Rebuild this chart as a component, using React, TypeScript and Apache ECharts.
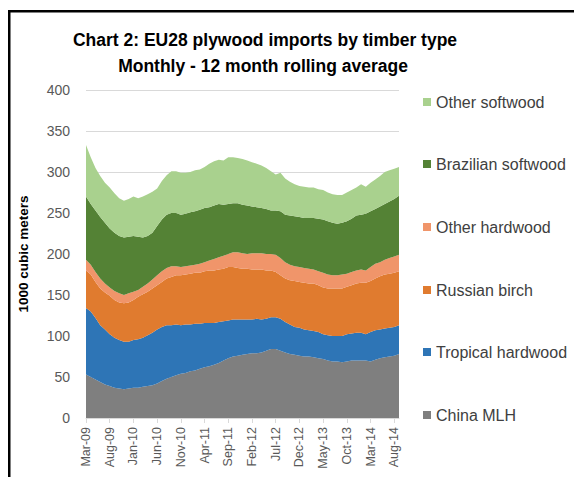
import React, { useEffect, useRef } from "react";
import * as echarts from "echarts";

const months = [
  "Mar-09","Apr-09","May-09","Jun-09","Jul-09","Aug-09","Sep-09","Oct-09","Nov-09","Dec-09",
  "Jan-10","Feb-10","Mar-10","Apr-10","May-10","Jun-10","Jul-10","Aug-10","Sep-10","Oct-10","Nov-10","Dec-10",
  "Jan-11","Feb-11","Mar-11","Apr-11","May-11","Jun-11","Jul-11","Aug-11","Sep-11","Oct-11","Nov-11","Dec-11",
  "Jan-12","Feb-12","Mar-12","Apr-12","May-12","Jun-12","Jul-12","Aug-12","Sep-12","Oct-12","Nov-12","Dec-12",
  "Jan-13","Feb-13","Mar-13","Apr-13","May-13","Jun-13","Jul-13","Aug-13","Sep-13","Oct-13","Nov-13","Dec-13",
  "Jan-14","Feb-14","Mar-14","Apr-14","May-14","Jun-14","Jul-14","Aug-14","Sep-14"
];

const chinaMLH = [
  53,50,47,44,41,39,37,36,35,36,
  37,37,38,39,40,42,45,48,50,52,
  54,55,57,58,60,62,63,65,67,70,
  73,75,76,77,78,79,79,80,82,84,
  84,82,80,78,77,76,75,75,74,73,
  72,70,69,69,68,69,70,70,70,70,
  69,71,73,74,75,76,78
];
const tropicalHardwood = [
  81,80,75,69,67,63,61,59,58,57,
  58,59,60,62,64,66,66,65,63,62,
  59,59,57,57,55,54,53,51,50,48,
  46,45,44,43,42,41,42,40,39,39,
  39,39,37,36,34,34,33,32,32,32,
  30,31,31,31,32,33,33,34,34,32,
  36,36,35,35,35,35,35
];
const russianBirch = [
  46,45,44,45,45,47,46,46,47,48,
  49,52,53,53,54,54,55,57,59,60,
  61,61,62,62,62,63,64,64,64,64,
  65,64,63,62,62,61,60,61,59,57,
  55,53,53,54,56,56,57,57,58,57,
  57,57,58,58,58,58,59,60,61,63,
  62,63,65,66,66,66,66
];
const otherHardwood = [
  13,12,12,12,11,10,11,11,10,11,
  10,8,9,10,11,12,13,13,13,11,
  10,10,10,10,11,11,12,14,15,16,
  16,18,19,19,18,20,20,20,20,20,
  21,21,20,19,18,18,18,18,17,17,
  18,17,16,16,17,16,16,16,16,15,
  17,18,17,18,19,20,20
];
const brazilianSoftwood = [
  77,74,75,75,74,72,71,70,70,69,
  68,65,60,58,57,60,63,65,65,65,
  64,64,65,65,66,66,65,65,65,62,
  61,60,60,59,59,57,56,55,55,53,
  54,57,58,60,61,61,61,62,63,64,
  65,65,64,63,63,64,65,67,67,69,
  68,67,68,68,69,70,72
];
const otherSoftwood = [
  63,57,52,50,49,50,48,46,45,46,
  48,47,50,51,50,46,47,48,51,51,
  51,50,49,50,49,50,53,54,54,54,
  57,56,55,56,55,54,53,52,50,48,
  44,47,44,41,39,38,38,37,37,36,
  36,35,35,35,34,35,35,34,37,33,
  35,36,37,39,38,37,35
];

const seriesNames = [
  "China MLH",
  "Tropical hardwood",
  "Russian birch",
  "Other hardwood",
  "Brazilian softwood",
  "Other softwood",
];
const seriesData = [chinaMLH, tropicalHardwood, russianBirch, otherHardwood, brazilianSoftwood, otherSoftwood];
const seriesColors = ["#7F7F7F", "#2E75B6", "#E07B2F", "#F0956A", "#548235", "#A9D18E"];

const legendOrder = [
  "Other softwood",
  "Brazilian softwood",
  "Other hardwood",
  "Russian birch",
  "Tropical hardwood",
  "China MLH",
];
const legendCenters = [103, 165, 228, 291, 353, 416];

const FONT = "'Liberation Sans', Arial, sans-serif";

export default function App() {
  const ref = useRef<HTMLDivElement>(null);
  useEffect(() => {
    if (!ref.current) return;
    const chart = echarts.init(ref.current, undefined, { renderer: "svg" });
    const option: any = {
      animation: false,
      backgroundColor: "#ffffff",
      textStyle: { fontFamily: FONT },
      grid: { left: 86, right: 175, top: 90, bottom: 59, containLabel: false },
      graphic: [
        { type: "rect", shape: { x: 8, y: 10, width: 566, height: 2.5 }, style: { fill: "#000" } },
        { type: "rect", shape: { x: 8, y: 10, width: 2.5, height: 467 }, style: { fill: "#000" } },
        {
          type: "text",
          x: 265,
          y: 40,
          style: {
            text: "Chart 2: EU28 plywood imports by timber type",
            textAlign: "center",
            textVerticalAlign: "middle",
            font: "bold 17.5px " + FONT,
            fill: "#000",
          },
        },
        {
          type: "text",
          x: 263,
          y: 66,
          style: {
            text: "Monthly - 12 month rolling average",
            textAlign: "center",
            textVerticalAlign: "middle",
            font: "bold 17.5px " + FONT,
            fill: "#000",
          },
        },
      ],
      legend: legendOrder.map((name, i) => ({
        data: [name],
        orient: "vertical",
        left: 423,
        top: legendCenters[i] - 9,
        itemWidth: 8,
        itemHeight: 8,
        itemGap: 0,
        icon: "rect",
        padding: 0,
        selectedMode: false,
        textStyle: { fontSize: 16, color: "#404040", fontFamily: FONT },
      })),
      xAxis: {
        type: "category",
        data: months,
        boundaryGap: false,
        axisLine: { lineStyle: { color: "#D9D9D9" } },
        axisTick: { show: true, interval: 4, length: 5, lineStyle: { color: "#D9D9D9" } },
        axisLabel: { interval: 4, rotate: 90, fontSize: 12.5, color: "#595959", margin: 9 },
        splitLine: { show: false },
      },
      yAxis: {
        type: "value",
        min: 0,
        max: 400,
        interval: 50,
        name: "1000 cubic meters",
        nameLocation: "middle",
        nameRotate: 90,
        nameGap: 56,
        nameTextStyle: { fontSize: 13.5, fontWeight: "bold", color: "#000" },
        axisLine: { show: false },
        axisTick: { show: false },
        axisLabel: { fontSize: 14, color: "#595959", margin: 16 },
        splitLine: { lineStyle: { color: "#D9D9D9" } },
      },
      series: seriesNames.map((name, i) => ({
        name,
        type: "line",
        stack: "total",
        data: seriesData[i],
        symbol: "none",
        showSymbol: false,
        lineStyle: { width: 0 },
        areaStyle: { color: seriesColors[i], opacity: 1 },
        itemStyle: { color: seriesColors[i] },
        emphasis: { disabled: true },
      })),
    };
    chart.setOption(option);
    return () => chart.dispose();
  }, []);
  return (
    <div
      ref={ref}
      style={{ position: "fixed", left: 0, top: 0, width: 574, height: 477 }}
    />
  );
}
